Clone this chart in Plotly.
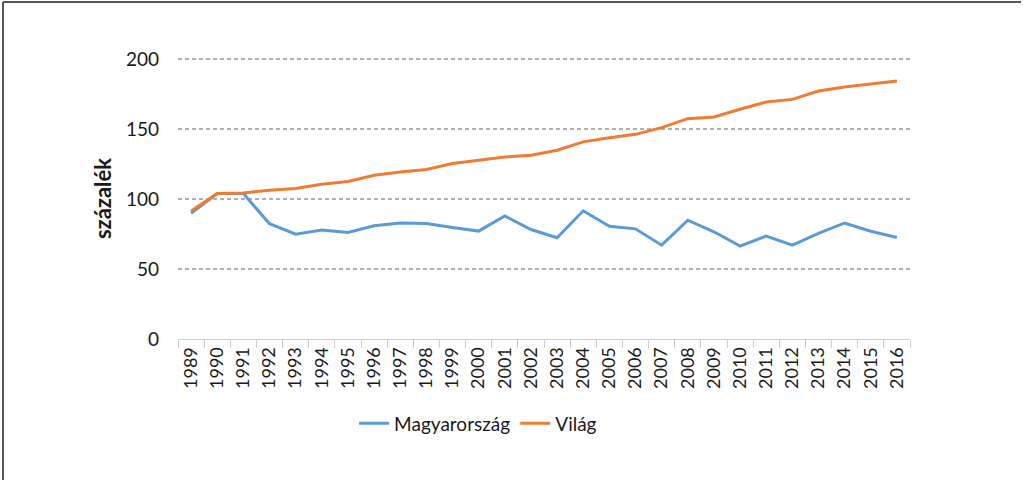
import plotly.graph_objects as go

years = [str(y) for y in range(1989, 2017)]
magyarorszag = [90, 104, 104, 82.5, 75, 78, 76.2, 81, 83, 82.6, 79.8, 77.2, 88, 78.3,
                72.4, 91.7, 80.7, 78.8, 67.1, 85, 76.7, 66.4, 73.6, 67.1, 75.5, 83, 77.1, 72.6]
vilag = [91.5, 104, 104.5, 106.4, 107.6, 110.7, 112.6, 117.1, 119.5, 121.2, 125.5, 127.9, 130.2, 131.4,
         135, 141, 144, 146.4, 151.2, 157.6, 158.8, 164.3, 169.5, 171.4, 177.4, 180.2, 182.1, 184.5]
y_ticks = [0, 50, 100, 150, 200]

FONT = "Lato"
W, H = 1023, 480
L, R, T, B = 178, 113, 58, 141
pw, ph = W - L - R, H - T - B

fig = go.Figure()
fig.add_trace(go.Scatter(x=years, y=magyarorszag, mode="lines", name="Magyarország",
                         line=dict(color="#5B9BD5", width=3)))
fig.add_trace(go.Scatter(x=years, y=vilag, mode="lines", name="Világ",
                         line=dict(color="#ED7D31", width=3)))

# border of the figure (top and left edges)
x0 = (3 - L) / pw
x1 = (1021 - L) / pw
ytop = (H - B - 2) / ph
ybot = (H - B - 480) / ph
fig.add_shape(type="line", xref="paper", yref="paper", x0=x0, x1=x1, y0=ytop, y1=ytop,
              line=dict(color="#555555", width=2))
fig.add_shape(type="line", xref="paper", yref="paper", x0=x0, x1=x0, y0=ytop, y1=ybot,
              line=dict(color="#555555", width=2))

fig.update_layout(
    width=W, height=H,
    margin=dict(l=L, r=R, t=T, b=B),
    paper_bgcolor="white", plot_bgcolor="white",
    font=dict(family=FONT, color="#1a1a1a"),
    showlegend=True,
    legend=dict(orientation="h", x=0.41, xanchor="center", y=-0.3, yanchor="middle",
                font=dict(size=19, family=FONT, color="#1a1a1a")),
    xaxis=dict(
        type="category", tickangle=-90, tickson="boundaries",
        ticks="outside", ticklen=8, tickcolor="#d0d0d0",
        showline=True, linecolor="#d0d0d0", linewidth=1,
        showgrid=False, tickfont=dict(size=18, family=FONT, color="#1a1a1a"),
        range=[-0.5, len(years) - 0.5],
    ),
    yaxis=dict(
        range=[0, 201], tickvals=y_ticks, ticktext=[str(v) for v in y_ticks],
        showgrid=True, gridcolor="#b0b0b0", griddash="4px,3px", gridwidth=1.5,
        zeroline=False, showline=False, ticks="",
        ticklabelstandoff=18,
        tickfont=dict(size=19, family=FONT, color="#1a1a1a"),
        title=dict(text="<b>százalék</b>", font=dict(size=22, family=FONT, color="#1a1a1a"),
                   standoff=8),
    ),
)

fig.write_html("out.html", config={"displayModeBar": False},
               post_script="document.body.style.margin='0';")
